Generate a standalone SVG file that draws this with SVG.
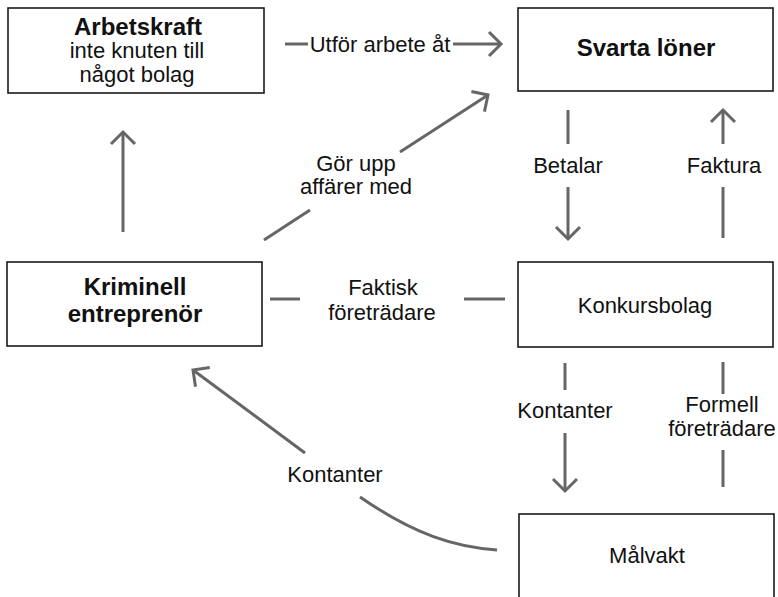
<svg xmlns="http://www.w3.org/2000/svg" width="778" height="597" viewBox="0 0 778 597">
  <style>
    .box { fill: #ffffff; stroke: #1a1a1a; stroke-width: 1.6; }
    .conn { fill: none; stroke: #666666; stroke-width: 3; }
    .arrow { marker-end: url(#head); }
    text { font-family: "Liberation Sans", Arial, Helvetica, sans-serif; fill: #111111; text-anchor: middle; }
    .lbl { font-size: 22px; }
    .bold { font-size: 24px; font-weight: bold; }
  </style>
  <defs>
    <marker id="head" markerUnits="userSpaceOnUse" markerWidth="30" markerHeight="30" viewBox="-15 -15 30 30" refX="0" refY="0" orient="auto">
      <path d="M -12 -12 L 0 0 L -12 12" fill="none" stroke="#666666" stroke-width="3"/>
    </marker>
  </defs>

  <rect width="778" height="597" fill="#ffffff"/>

  <!-- nodes -->
  <g id="n-arbetskraft">
    <rect class="box" x="8" y="8" width="256" height="85"/>
    <text class="bold" x="138" y="35">Arbetskraft</text>
    <text class="lbl" x="137" y="58">inte knuten till</text>
    <text class="lbl" x="137" y="82">något bolag</text>
  </g>

  <g id="n-svarta">
    <rect class="box" x="518" y="8" width="255" height="83"/>
    <text class="bold" x="646" y="56">Svarta löner</text>
  </g>

  <g id="n-kriminell">
    <rect class="box" x="7" y="262" width="255" height="84"/>
    <text class="bold" x="135" y="295">Kriminell</text>
    <text class="bold" x="135" y="322">entreprenör</text>
  </g>

  <g id="n-konkurs">
    <rect class="box" x="518" y="262" width="255" height="85"/>
    <text class="lbl" x="645" y="313">Konkursbolag</text>
  </g>

  <g id="n-malvakt">
    <rect class="box" x="519" y="514" width="255" height="90"/>
    <text class="lbl" x="647" y="563">Målvakt</text>
  </g>

  <!-- connectors with their labels -->
  <g id="connectors">
    <!-- Arbetskraft -> Svarta löner -->
    <line class="conn" x1="285" y1="44" x2="308" y2="44"/>
    <text class="lbl" x="380" y="52">Utför arbete åt</text>
    <line class="conn arrow" x1="453" y1="44" x2="501" y2="44"/>

    <!-- Kriminell entreprenör -> Arbetskraft -->
    <line class="conn arrow" x1="123" y1="232" x2="123" y2="132"/>

    <!-- Kriminell entreprenör -> Svarta löner -->
    <line class="conn" x1="264" y1="240" x2="310" y2="210"/>
    <text class="lbl" x="356" y="171">Gör upp</text>
    <text class="lbl" x="356" y="194">affärer med</text>
    <line class="conn arrow" x1="400" y1="152" x2="488" y2="95"/>

    <!-- Svarta löner -> Konkursbolag (Betalar) -->
    <line class="conn" x1="568" y1="110" x2="568" y2="144"/>
    <text class="lbl" x="568" y="173">Betalar</text>
    <line class="conn arrow" x1="568" y1="187" x2="568" y2="239"/>

    <!-- Konkursbolag -> Svarta löner (Faktura) -->
    <line class="conn" x1="723" y1="238" x2="723" y2="187"/>
    <text class="lbl" x="724" y="173">Faktura</text>
    <line class="conn arrow" x1="723" y1="144" x2="723" y2="110"/>

    <!-- Kriminell entreprenör - Konkursbolag -->
    <line class="conn" x1="270" y1="299" x2="300" y2="299"/>
    <text class="lbl" x="383" y="295">Faktisk</text>
    <text class="lbl" x="382" y="320">företrädare</text>
    <line class="conn" x1="464" y1="299" x2="505" y2="299"/>

    <!-- Konkursbolag -> Målvakt (Kontanter) -->
    <line class="conn" x1="565" y1="363" x2="565" y2="390"/>
    <text class="lbl" x="565" y="418">Kontanter</text>
    <line class="conn arrow" x1="565" y1="433" x2="565" y2="491"/>

    <!-- Målvakt - Konkursbolag (Formell företrädare) -->
    <line class="conn" x1="723" y1="362" x2="723" y2="394"/>
    <text class="lbl" x="722" y="412">Formell</text>
    <text class="lbl" x="722" y="436">företrädare</text>
    <line class="conn" x1="723" y1="450" x2="723" y2="487"/>

    <!-- Målvakt -> Kriminell entreprenör (Kontanter) -->
    <path class="conn" d="M 497 550 C 455 547 415 535 360 497"/>
    <text class="lbl" x="335" y="482">Kontanter</text>
    <line class="conn arrow" x1="305" y1="453" x2="193" y2="370"/>
  </g>
</svg>
